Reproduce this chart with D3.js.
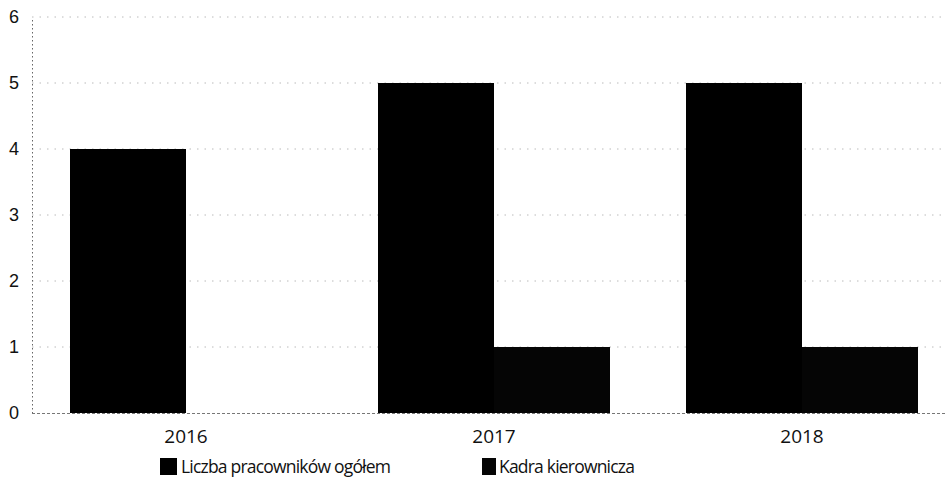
<!DOCTYPE html>
<html>
<head>
<meta charset="utf-8">
<script src="https://cdn.jsdelivr.net/npm/d3@7"></script>
<style>
  html, body { margin: 0; padding: 0; background: #fff; }
  svg { display: block; font-family: "Open Sans", "Noto Sans", sans-serif; }
</style>
</head>
<body>
<svg id="chart" width="946" height="495"></svg>
<script>
// Employment figures by year
const years = ["2016", "2017", "2018"];
const seriesNames = ["Liczba pracowników ogółem", "Kadra kierownicza"];
const totalEmployees = [4, 5, 5];
const management = [0, 1, 1];
const yTicks = [0, 1, 2, 3, 4, 5, 6];
const seriesColors = ["#000000", "#050505"];

const svg = d3.select("#chart");
const plotLeft = 32, plotRight = 956, plotTop = 17, plotBottom = 413;

const x0 = d3.scaleBand().domain(years).range([plotLeft, plotRight]).paddingInner(0).paddingOuter(0);
const x1 = d3.scaleBand().domain(seriesNames).range([38, x0.bandwidth() - 38]).padding(0);
const y = d3.scaleLinear().domain([0, 6]).range([plotBottom, plotTop]);

// Dotted horizontal gridlines
svg.append("g")
  .selectAll("line")
  .data(yTicks.filter(d => d > 0))
  .join("line")
  .attr("x1", plotLeft).attr("x2", 946)
  .attr("y1", d => y(d)).attr("y2", d => y(d))
  .attr("stroke", "#a8a8a8")
  .attr("stroke-width", 0.8)
  .attr("stroke-dasharray", "1.5,6");

// Y axis
const yAxis = svg.append("g")
  .attr("transform", `translate(${plotLeft},0)`)
  .call(d3.axisLeft(y).tickValues(yTicks).tickFormat(d3.format("d")).tickSize(0).tickPadding(13));
yAxis.select(".domain").attr("stroke", "#666").attr("stroke-dasharray", "1.5,2.5").attr("stroke-width", 1);
yAxis.selectAll("text").attr("font-size", 18).attr("fill", "#111");

// Bars
const rows = years.map((yr, i) => ({ year: yr, values: [totalEmployees[i], management[i]] }));
const groups = svg.append("g")
  .selectAll("g")
  .data(rows)
  .join("g")
  .attr("transform", d => `translate(${x0(d.year)},0)`);

groups.selectAll("rect")
  .data(d => d.values.map((v, j) => ({ name: seriesNames[j], value: v, j })).filter(d => d.value > 0))
  .join("rect")
  .attr("x", d => x1(d.name))
  .attr("width", x1.bandwidth())
  .attr("y", d => y(d.value))
  .attr("height", d => y(0) - y(d.value))
  .attr("fill", d => seriesColors[d.j]);

// X axis baseline
svg.append("line")
  .attr("x1", plotLeft).attr("x2", 946)
  .attr("y1", plotBottom + 0.5).attr("y2", plotBottom + 0.5)
  .attr("stroke", "#777")
  .attr("stroke-width", 1)
  .attr("stroke-dasharray", "3,2");

// Category labels
svg.append("g")
  .selectAll("text")
  .data(years)
  .join("text")
  .attr("x", d => x0(d) + x0.bandwidth() / 2)
  .attr("y", 443)
  .attr("text-anchor", "middle")
  .attr("font-size", 19)
  .attr("fill", "#111")
  .text(d => d);

// Legend
const legendX = [160, 482];
const legend = svg.append("g")
  .selectAll("g")
  .data(seriesNames)
  .join("g")
  .attr("transform", (d, i) => `translate(${legendX[i]},458)`);
legend.append("rect")
  .attr("width", (d, i) => i === 0 ? 17 : 14)
  .attr("height", 17)
  .attr("fill", (d, i) => seriesColors[i]);
legend.append("text")
  .attr("x", (d, i) => i === 0 ? 21 : 17)
  .attr("y", 15)
  .attr("font-size", 17.5)
  .attr("letter-spacing", -0.8)
  .attr("fill", "#111")
  .text(d => d);
</script>
</body>
</html>
